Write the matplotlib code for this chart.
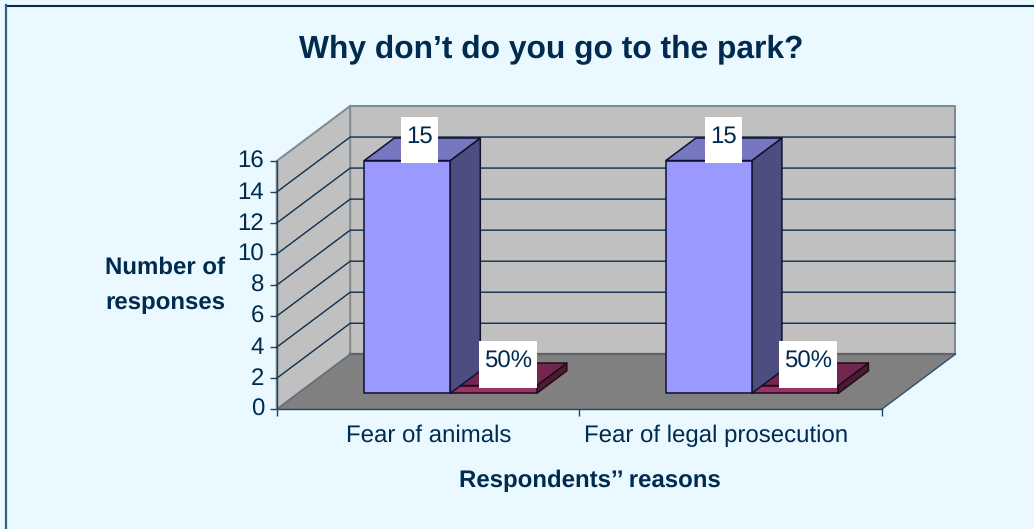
import matplotlib
matplotlib.use("Agg")
import matplotlib.pyplot as plt
from matplotlib.patches import Polygon, Rectangle
from matplotlib.transforms import ScaledTranslation

# Survey figures
categories = ["Fear of animals", "Fear of legal prosecution"]
responses = [15, 15]
shares = [0.5, 0.5]
response_labels = ["15", "15"]
share_labels = ["50%", "50%"]
y_ticks = [0, 2, 4, 6, 8, 10, 12, 14, 16]

W, H = 1034, 529
NAVY = "#002B4F"
BG = "#E9F9FF"
plt.rcParams["font.family"] = ["Liberation Sans", "DejaVu Sans"]
plt.rcParams["text.hinting"] = "no_hinting"
BASE = 17.3

fig = plt.figure(figsize=(W / 100, H / 100), dpi=100, facecolor=BG)

# Front plane of the pseudo-3D box
X0, X1, Y0, Y1 = 276.7, 881.7, 409.3, 161.0
ax = fig.add_axes([X0 / W, 1 - Y0 / H, (X1 - X0) / W, (Y0 - Y1) / H])
ax.set_xlim(0, 2)
ax.set_ylim(0, 16)
ax.patch.set_visible(False)

PX = 2 / (X1 - X0)          # data units per pixel, horizontal
PY = 16 / (Y0 - Y1)         # data units per pixel, vertical
DX, DY = 73.5 * PX, 55.0 * PY


def proj(x, v, d=0.0):
    """Position on the floor-depth axis d (0 front, 1 back)."""
    return (x + d * DX, v + d * DY)


def poly(points, face, edge="none", lw=0.0, z=1):
    ax.add_patch(Polygon(points, closed=True, facecolor=face, edgecolor=edge,
                         linewidth=lw, zorder=z, clip_on=False, joinstyle="round"))


def box(x0, x1, h, d0, d1, front, side, top, z, edge="#101030"):
    poly([proj(x1, 0, d0), proj(x1, 0, d1), proj(x1, h, d1), proj(x1, h, d0)], side, edge, 1.1, z)
    poly([proj(x0, h, d0), proj(x1, h, d0), proj(x1, h, d1), proj(x0, h, d1)], top, edge, 1.1, z)
    poly([proj(x0, 0, d0), proj(x1, 0, d0), proj(x1, h, d0), proj(x0, h, d0)], front, edge, 1.1, z + 0.1)


# Walls and floor
WALL = "#C0C0C0"
EDGE = "#808890"
poly([proj(0, 0, 1), proj(2, 0, 1), proj(2, 16, 1), proj(0, 16, 1)], WALL, EDGE, 1.4, 1)
poly([proj(0, 0), proj(0, 0, 1), proj(0, 16, 1), proj(0, 16)], WALL, EDGE, 1.4, 1)
poly([proj(0, 0), proj(2, 0), proj(2, 0, 1), proj(0, 0, 1)], "#808080", "none", 0, 1.5)
ax.plot(*zip(proj(0, 0, 1), proj(2, 0, 1)), color="#5F6468", lw=1.6, zorder=1.6, clip_on=False)
ax.plot(*zip(proj(2, 0), proj(2, 0, 1)), color="#2B5070", lw=1.0, zorder=1.6, clip_on=False)
ax.plot(*zip(proj(0, 0), proj(0, 0, 1)), color="#5F6F7F", lw=1.0, zorder=1.6, clip_on=False)

# Gridlines along side and back walls
for v in y_ticks[1:-1]:
    ax.plot(*zip(proj(0, v), proj(0, v, 1), proj(2, v, 1)), color="#0E2F4C", lw=1.0,
            zorder=2, clip_on=False)

# Bars
D0, D1 = 0.29, 0.70
BAR_W = 0.284
OFFSETS = [0.219, 0.216]
RESP_NUDGE = [12.5, 14.5]    # horizontal shift of value labels, pixels
SHARE_NUDGE = [14.5, 13.2]
for i, (resp, share) in enumerate(zip(responses, shares)):
    left = i + OFFSETS[i]
    box(left + BAR_W, left + 2 * BAR_W + 0.002, share, D0, D1,
        "#993366", "#4D1A33", "#732650", 3, edge="#200A18")
    box(left, left + BAR_W, resp, D0, D1, "#9999FF", "#4D4D80", "#7777BF", 4)

    # White value labels sitting over the bars
    for x_c, val, txt, w_px, h_px, nudge in (
        (left + BAR_W / 2, resp, response_labels[i], 37, 46, RESP_NUDGE[i]),
        (left + 1.5 * BAR_W, share, share_labels[i], 58, 47, SHARE_NUDGE[i]),
    ):
        cx, cy = proj(x_c, val, D0)
        cx += nudge * PX
        cy += 21 * PY
        ax.add_patch(Rectangle((cx - w_px / 2 * PX, cy - h_px / 2 * PY), w_px * PX, h_px * PY,
                               facecolor="white", edgecolor="none", zorder=6, clip_on=False))
        ax.text(cx, cy + 3.0 * PY, txt, ha="center", va="center", fontsize=BASE,
                color=NAVY, zorder=7, clip_on=False)

# Axes
for s in ("top", "right"):
    ax.spines[s].set_visible(False)
for s in ("left", "bottom"):
    ax.spines[s].set_color("#1F4565")
    ax.spines[s].set_linewidth(1.0)
    ax.spines[s].set_zorder(2.5)
ax.set_yticks(y_ticks)
ax.set_xticks([0, 1, 2])
ax.set_xticklabels([])
ax.set_xticks([0.502, 1.452], labels=categories, minor=True)
ax.tick_params(axis="y", length=5, width=1.0, color="#1F4565", pad=4, labelsize=BASE, labelcolor=NAVY)
ax.tick_params(axis="x", which="major", length=5, width=1.0, color="#1F4565")
ax.tick_params(axis="x", which="minor", length=0, pad=11, labelsize=BASE, labelcolor=NAVY)

# Value labels sit slightly above their tick marks
lift = ScaledTranslation(0, 2 / 100, fig.dpi_scale_trans)
for lbl in ax.get_yticklabels():
    lbl.set_transform(lbl.get_transform() + lift)

# Titles
fig.text(551 / W, 1 - 49.5 / H, "Why don’t do you go to the park?", ha="center", va="center",
         fontsize=22.9, fontweight="bold", color=NAVY)
fig.text(590 / W, 1 - 481 / H, "Respondents’’ reasons", ha="center", va="center",
         fontsize=BASE, fontweight="bold", color=NAVY)
fig.text(165 / W, 1 - 285 / H, "Number of\nresponses", ha="center", va="center",
         fontsize=BASE, fontweight="bold", color=NAVY, linespacing=1.72)

# Frame along the top and left edges only
fig.add_artist(plt.Line2D([5.5 / W, W / W], [1 - 5.5 / H] * 2, color="#0A2A4A", lw=1.5))
fig.add_artist(plt.Line2D([6 / W] * 2, [0, 1 - 5 / H], color="#3A5F80", lw=1.6))

fig.savefig("out.png", dpi=100, facecolor=BG)
